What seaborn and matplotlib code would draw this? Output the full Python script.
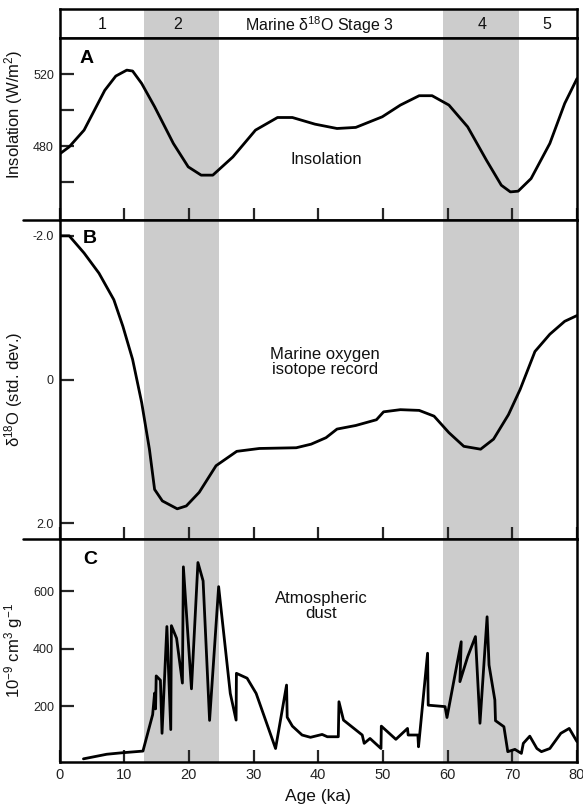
import numpy as np
import pandas as pd
import matplotlib
matplotlib.use("Agg")
import matplotlib.pyplot as plt
from matplotlib.lines import Line2D
import seaborn as sns

# --- donnees ---
age_ins = [0, 1.5, 3.8, 7.0, 8.7, 10.4, 11.3, 12.7, 14.7, 17.6, 19.9, 21.9, 23.7,
           26.8, 30.3, 33.7, 36.0, 39.5, 42.9, 45.8, 49.9, 52.7, 55.6, 57.6, 60.2,
           63.1, 66.0, 68.3, 69.7, 70.9, 72.9, 75.8, 78.1, 80.0]
insolation = [475.6, 479.6, 488.9, 511.0, 518.9, 522.2, 521.7, 514.8, 501.9, 481.5,
              468.5, 463.9, 463.9, 474.0, 488.9, 495.9, 495.9, 492.2, 489.8, 490.4,
              496.3, 502.8, 508.0, 508.0, 502.8, 490.7, 472.2, 458.3, 454.6, 455.0,
              462.0, 481.5, 503.7, 517.5]

age_d18o = [0, 1.5, 3.8, 6.1, 8.4, 9.8, 11.3, 12.7, 13.9, 14.7, 15.9, 18.2, 19.6,
            21.6, 24.2, 27.4, 30.9, 36.6, 38.9, 41.2, 42.9, 45.8, 49.0, 50.1, 52.7,
            55.6, 57.9, 60.2, 62.5, 65.1, 67.1, 69.4, 71.2, 73.5, 75.8, 78.1, 80.0]
d18o = [-2.0, -2.0, -1.76, -1.48, -1.11, -0.74, -0.28, 0.32, 0.97, 1.53, 1.69, 1.80,
        1.76, 1.57, 1.20, 1.00, 0.96, 0.95, 0.90, 0.81, 0.69, 0.64, 0.56, 0.45, 0.42,
        0.43, 0.51, 0.74, 0.93, 0.97, 0.83, 0.49, 0.14, -0.39, -0.63, -0.81, -0.89]

age_dust = [3.7, 7.3, 9.6, 12.9, 14.4, 14.7, 14.85, 14.95, 15.6, 15.85, 16.6, 17.2,
            17.3, 18.1, 19.0, 19.15, 20.4, 21.4, 22.2, 23.2, 24.6, 26.4, 27.3, 27.35,
            29.0, 30.4, 33.4, 35.1, 35.2, 36.0, 37.5, 38.8, 40.6, 41.4, 43.1, 43.2,
            43.9, 46.8, 47.1, 48.0, 49.7, 49.75, 52.0, 53.8, 53.9, 55.4, 55.5, 56.9,
            57.0, 59.6, 59.9, 62.1, 61.9, 63.1, 64.3, 65.0, 66.1, 66.4, 67.3, 67.4,
            68.7, 69.3, 70.4, 71.4, 71.7, 72.7, 73.8, 74.5, 75.8, 77.5, 78.8, 80.0]
dust = [16, 32, 37, 43, 170, 245, 190, 305, 290, 105, 477, 118,
        480, 436, 280, 685, 260, 700, 636, 150, 616, 244, 151, 314,
        297, 244, 52, 273, 161, 130, 99, 91, 101, 93, 93, 215,
        151, 99, 70, 87, 52, 130, 84, 122, 99, 99, 58, 384,
        203, 198, 160, 424, 285, 372, 442, 140, 511, 343, 221, 149,
        128, 41, 49, 35, 70, 95, 52, 41, 52, 105, 122, 76]

stage_bands = [(13.0, 24.6), (59.3, 71.0)]
stage_labels = ["1", "2", r"Marine δ$\mathregular{^{18}}$O Stage 3", "4", "5"]
stage_label_x = [6.6, 18.3, 40.2, 65.4, 75.4]

sns.set_theme(style="white")
plt.rcParams["font.family"] = ["Liberation Sans", "DejaVu Sans"]
plt.rcParams["mathtext.fontset"] = "custom"
plt.rcParams["mathtext.rm"] = "Liberation Sans"
plt.rcParams["mathtext.it"] = "Liberation Sans:italic"
plt.rcParams["mathtext.bf"] = "Liberation Sans:bold"
plt.rcParams["text.color"] = "#111111"
plt.rcParams["axes.labelcolor"] = "#111111"

W, H = 583, 806
fig = plt.figure(figsize=(W / 100, H / 100), dpi=100)
fig.patch.set_facecolor("white")

x0, x1 = 59.5, 577.0


def add_ax(top, bottom):
    return fig.add_axes([x0 / W, 1 - bottom / H, (x1 - x0) / W, (bottom - top) / H])


ax_s = add_ax(9.3, 37.7)
ax_a = add_ax(37.7, 220.0)
ax_b = add_ax(220.0, 539.0)
ax_c = add_ax(539.0, 762.0)

shade = "#cccccc"
lw_sp = 1.8
for ax in [ax_s, ax_a, ax_b, ax_c]:
    ax.set_xlim(0, 80)
    ax.set_facecolor("white")
    for b0, b1 in stage_bands:
        ax.axvspan(b0, b1, color=shade, lw=0, zorder=0)
    for s in ax.spines.values():
        s.set_linewidth(lw_sp)
        s.set_color("black")

# bandeau des stades
ax_s.set_ylim(0, 1)
ax_s.set_xticks([])
ax_s.set_yticks([])
for lab, xp in zip(stage_labels, stage_label_x):
    ax_s.text(xp, 0.45, lab, ha="center", va="center", fontsize=11.5)

ylab_x = -0.067

# A - insolation
sns.lineplot(x=age_ins, y=insolation, ax=ax_a, color="black", lw=2.0, sort=False, estimator=None)
ax_a.set_ylim(439, 540.2)
ax_a.set_yticks([460, 480, 500, 520])
ax_a.set_yticklabels(["", "480", "", "520"])
ax_a.set_ylabel(r"Insolation (W/m$\mathregular{^2}$)", fontsize=12)
ax_a.yaxis.set_label_coords(ylab_x, 0.58)
ax_a.text(0.038, 0.885, "A", transform=ax_a.transAxes, fontsize=14, fontweight="bold",
          ha="left", va="center", color="black")
ax_a.text(41.2, 472.8, "Insolation", ha="center", va="center", fontsize=12)

# B - isotopes
sns.lineplot(x=age_d18o, y=d18o, ax=ax_b, color="black", lw=2.0, sort=False, estimator=None)
ax_b.set_ylim(2.22, -2.22)
ax_b.set_yticks([-2, 0, 2])
ax_b.set_yticklabels(["-2.0", "0", "2.0"])
ax_b.set_ylabel(r"δ$\mathregular{^{18}}$O (std. dev.)", fontsize=12)
ax_b.yaxis.set_label_coords(ylab_x, 0.47)
ax_b.text(0.045, 0.942, "B", transform=ax_b.transAxes, fontsize=14, fontweight="bold",
          ha="left", va="center", color="black")
ax_b.text(41.0, -0.25, "Marine oxygen\nisotope record", ha="center", va="center", fontsize=12, linespacing=1.0)

# C - poussieres
sns.lineplot(x=age_dust, y=dust, ax=ax_c, color="black", lw=2.0, sort=False, estimator=None)
ax_c.set_ylim(5, 782)
ax_c.set_yticks([200, 400, 600])
ax_c.set_ylabel(r"10$\mathregular{^{-9}}$ cm$\mathregular{^3}$ g$\mathregular{^{-1}}$", fontsize=12)
ax_c.yaxis.set_label_coords(ylab_x, 0.5)
ax_c.text(0.046, 0.91, "C", transform=ax_c.transAxes, fontsize=14, fontweight="bold",
          ha="left", va="center", color="black")
ax_c.text(40.5, 549, "Atmospheric\ndust", ha="center", va="center", fontsize=12, linespacing=1.0)
ax_c.set_xlabel("Age (ka)", fontsize=12.5, labelpad=5)

for ax in [ax_a, ax_b, ax_c]:
    ax.set_xticks(range(0, 81, 10))
    ax.tick_params(axis="y", direction="in", length=10, width=1.6, labelsize=9, pad=4,
                   left=True, labelcolor="#222222")
    ax.tick_params(axis="x", direction="in", length=8.5, width=1.6, bottom=True, top=False)
    ax.spines["bottom"].set_visible(True)
for ax in [ax_a, ax_b]:
    ax.tick_params(axis="x", labelbottom=False)
ax_c.tick_params(axis="x", labelsize=10.5, pad=4, labelcolor="#222222")

# traits separateurs prolonges a gauche
for yy in [220.0, 539.0]:
    fig.add_artist(Line2D([23 / W, x0 / W], [1 - yy / H, 1 - yy / H], color="black", lw=lw_sp))

fig.savefig("out.png", dpi=100, facecolor="white")
